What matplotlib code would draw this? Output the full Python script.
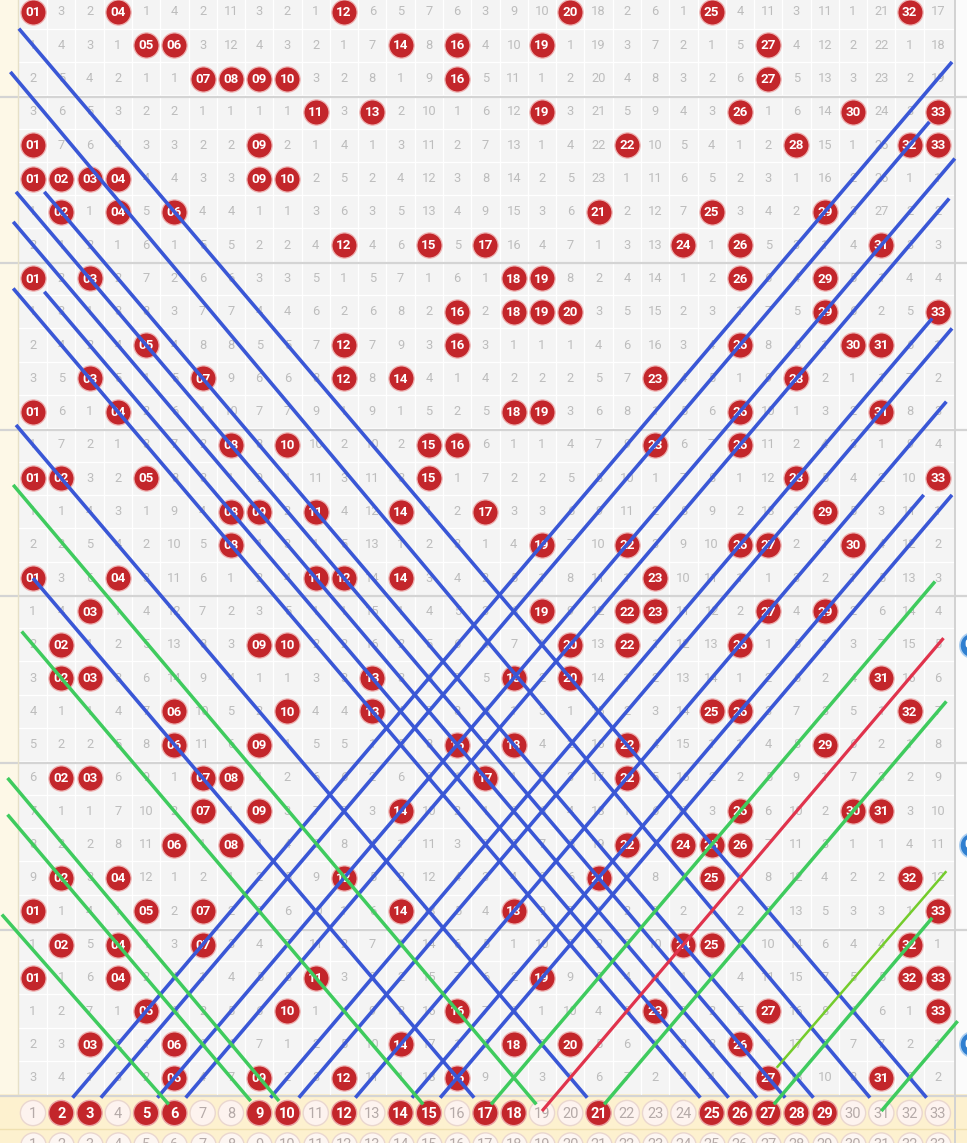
import matplotlib
matplotlib.use("Agg")
import matplotlib.pyplot as plt
from matplotlib.patches import Rectangle

plt.rcParams['font.family'] = ['Roboto', 'DejaVu Sans']

# Red balls drawn in each period (6 of 33), oldest period first
draws = [
    [1, 4, 12, 20, 25, 32],
    [5, 6, 14, 16, 19, 27],
    [7, 8, 9, 10, 16, 27],
    [11, 13, 19, 26, 30, 33],
    [1, 9, 22, 28, 32, 33],
    [1, 2, 3, 4, 9, 10],
    [2, 4, 6, 21, 25, 29],
    [12, 15, 17, 24, 26, 31],
    [1, 3, 18, 19, 26, 29],
    [16, 18, 19, 20, 29, 33],
    [5, 12, 16, 26, 30, 31],
    [3, 7, 12, 14, 23, 28],
    [1, 4, 18, 19, 26, 31],
    [8, 10, 15, 16, 23, 26],
    [1, 2, 5, 15, 28, 33],
    [8, 9, 11, 14, 17, 29],
    [8, 19, 22, 26, 27, 30],
    [1, 4, 11, 12, 14, 23],
    [3, 19, 22, 23, 27, 29],
    [2, 9, 10, 20, 22, 26],
    [2, 3, 13, 18, 20, 31],
    [6, 10, 13, 25, 26, 32],
    [6, 9, 16, 18, 22, 29],
    [2, 3, 7, 8, 17, 22],
    [7, 9, 14, 26, 30, 31],
    [6, 8, 22, 24, 25, 26],
    [2, 4, 12, 21, 25, 32],
    [1, 5, 7, 14, 18, 33],
    [2, 4, 7, 24, 25, 32],
    [1, 4, 11, 19, 32, 33],
    [5, 10, 16, 23, 27, 33],
    [3, 6, 14, 18, 20, 26],
    [6, 9, 12, 16, 27, 31],
]

# Missed-period counts shown in the first period (0 where the ball was drawn)
first_gaps = [0, 3, 2, 0, 1, 4, 2, 11, 3, 2, 1, 0, 6, 5, 7, 6, 3,
              9, 10, 0, 18, 2, 6, 1, 0, 4, 11, 3, 11, 1, 21, 0, 17]

numbers = list(range(1, 34))
picked = [2, 3, 5, 6, 9, 10, 12, 14, 15, 17, 18, 21, 25, 26, 27, 28, 29]

# Trend lines: (start col, start row, end col, end row)
blue_lines = [
    (0.5, 1.5, 32.6, 33.6),
    (0.2, 2.8, 30.6, 33.6),
    (1.4, 6.4, 28.6, 33.6),
    (0.4, 6.4, 27.6, 33.6),
    (0.3, 7.3, 26.6, 33.6),
    (1.4, 9.4, 25.6, 33.6),
    (0.3, 9.3, 24.6, 33.6),
    (0.4, 13.4, 20.6, 33.6),
    (1.0, 18.0, 16.6, 33.6),
    (2.4, 33.6, 33.5, 2.5),
    (3.4, 33.6, 32.7, 4.3),
    (5.4, 33.6, 33.6, 5.4),
    (6.4, 33.6, 33.4, 6.6),
    (9.4, 33.6, 32.8, 10.2),
    (10.4, 33.6, 33.5, 10.5),
    (12.4, 33.6, 33.3, 12.7),
    (14.4, 33.6, 32.5, 15.5),
    (15.4, 33.6, 33.5, 15.5),
]
green_lines = [
    (0.3, 15.2, 18.8, 33.8),
    (0.6, 19.6, 14.8, 33.8),
    (0.1, 24.0, 9.7, 33.7),
    (0.1, 25.1, 8.7, 33.7),
    (-0.1, 28.1, 5.8, 33.8),
    (17.2, 33.8, 32.9, 18.1),
    (21.2, 33.8, 33.3, 21.7),
    (27.2, 33.8, 32.8, 28.2),
    (31.0, 34.0, 33.7, 31.3),
]
lime_lines = [
    (27.3, 32.7, 33.3, 26.8),
]
red_lines = [
    (19.0, 34.0, 33.2, 19.8),
]

# Side column of blue balls that is cut off at the right edge
side_rows = [20, 26, 32]
side_labels = ['07', '04', '02']

X0, X1 = -0.167, 34.03
Y0, Y1 = 0.64, 34.96
n_rows = len(draws)

fig = plt.figure(figsize=(9.67, 11.43), dpi=100)
ax = fig.add_axes([0, 0, 1, 1])
ax.set_xlim(X0, X1)
ax.set_ylim(Y1, Y0)
ax.axis('off')

# backgrounds
ax.add_patch(Rectangle((X0, Y0), 0.5 - X0, n_rows + 0.5 - Y0,
                       facecolor='#fdf8e7', edgecolor='none', zorder=0))
ax.add_patch(Rectangle((0.5, Y0), 33.1, n_rows + 0.5 - Y0,
                       facecolor='#f4f4f4', edgecolor='none', zorder=0))
ax.add_patch(Rectangle((33.6, Y0), X1 - 33.6, n_rows + 0.5 - Y0,
                       facecolor='#fbfbfb', edgecolor='none', zorder=0))
ax.add_patch(Rectangle((X0, n_rows + 0.5), X1 - X0, Y1 - n_rows - 0.5,
                       facecolor='#fdf1cf', edgecolor='none', zorder=0))

# cell grid
for i in range(1, 33):
    ax.plot([i + 0.5, i + 0.5], [Y0, n_rows + 0.5], color='white', lw=0.9, zorder=1)
for r in range(1, n_rows):
    ax.plot([0.5, 33.6], [r + 0.5, r + 0.5], color='white', lw=0.9, zorder=1)
for r in range(3, n_rows + 1, 5):
    ax.plot([X0, X1], [r + 0.55, r + 0.55], color='#d4d4d4', lw=1.6, zorder=1)
ax.plot([0.47, 0.47], [Y0, n_rows + 0.5], color='#e6e0c8', lw=1.0, zorder=1)
ax.plot([33.62, 33.62], [Y0, Y1], color='#d2d2d2', lw=1.4, zorder=1)
ax.plot([X0, X1], [34.55, 34.55], color='#efe0b0', lw=1.0, zorder=1)

# missed counts and drawn balls
ball_x, ball_y = [], []
prev = None
for r, row in enumerate(draws, start=1):
    cur = []
    for c in numbers:
        if c in row:
            cur.append(0)
            ball_x.append(c)
            ball_y.append(r)
        else:
            val = first_gaps[c - 1] if prev is None else prev[c - 1] + 1
            cur.append(val)
            ax.text(c, r, str(val), ha='center', va='center', fontsize=9.3,
                    color='#bdbdbd', zorder=2)
    prev = cur

ax.scatter(ball_x, ball_y, s=330, color='#c3262b', edgecolors='#eeb3b3',
           linewidths=0.9, zorder=3)
for c, r in zip(ball_x, ball_y):
    ax.text(c, r + 0.02, f'{c:02d}', ha='center', va='center', fontsize=9.6,
            fontweight='bold', color='white', zorder=4)

# partially visible side column
ax.scatter([34.2] * len(side_rows), side_rows, s=330, color='#2f7fd0',
           edgecolors='#a9cdf0', linewidths=1.2, zorder=3, clip_on=True)
for r, lab in zip(side_rows, side_labels):
    ax.text(34.2, r, lab, ha='center', va='center', fontsize=9.6,
            fontweight='bold', color='white', zorder=4, clip_on=True)

# pick row of all numbers
pick_y = n_rows + 1.06
pc = ['#c3262b' if n in picked else '#fdf3ef' for n in numbers]
pe = ['#e9a5a5' if n in picked else '#ead7cf' for n in numbers]
ax.scatter(numbers, [pick_y] * len(numbers), s=330, color=pc, edgecolors=pe,
           linewidths=1.0, zorder=3)
for n in numbers:
    ax.text(n, pick_y + 0.02, str(n), ha='center', va='center', fontsize=10.5,
            fontweight='bold' if n in picked else 'normal',
            color='white' if n in picked else '#b5aaa8', zorder=4)

# next row, cut off by the lower edge
next_y = n_rows + 2.02
ax.scatter(numbers, [next_y] * len(numbers), s=330, color='#fdf6f2',
           edgecolors='#ead7cf', linewidths=1.0, zorder=3)
for n in numbers:
    ax.text(n, next_y, str(n), ha='center', va='center', fontsize=10.5,
            color='#b5aaa8', zorder=4)

# trend lines
def draw_lines(lines, color, lw):
    for x0, y0, x1, y1 in lines:
        ax.plot([x0, x1], [y0, y1], color=color, lw=lw,
                solid_capstyle='butt', zorder=5)

draw_lines(blue_lines, '#3a57d6', 2.6)
draw_lines(green_lines, '#3fcb5e', 2.5)
draw_lines(lime_lines, '#74cc2c', 1.8)
draw_lines(red_lines, '#e0334c', 2.3)

fig.savefig('out.png', dpi=100)
